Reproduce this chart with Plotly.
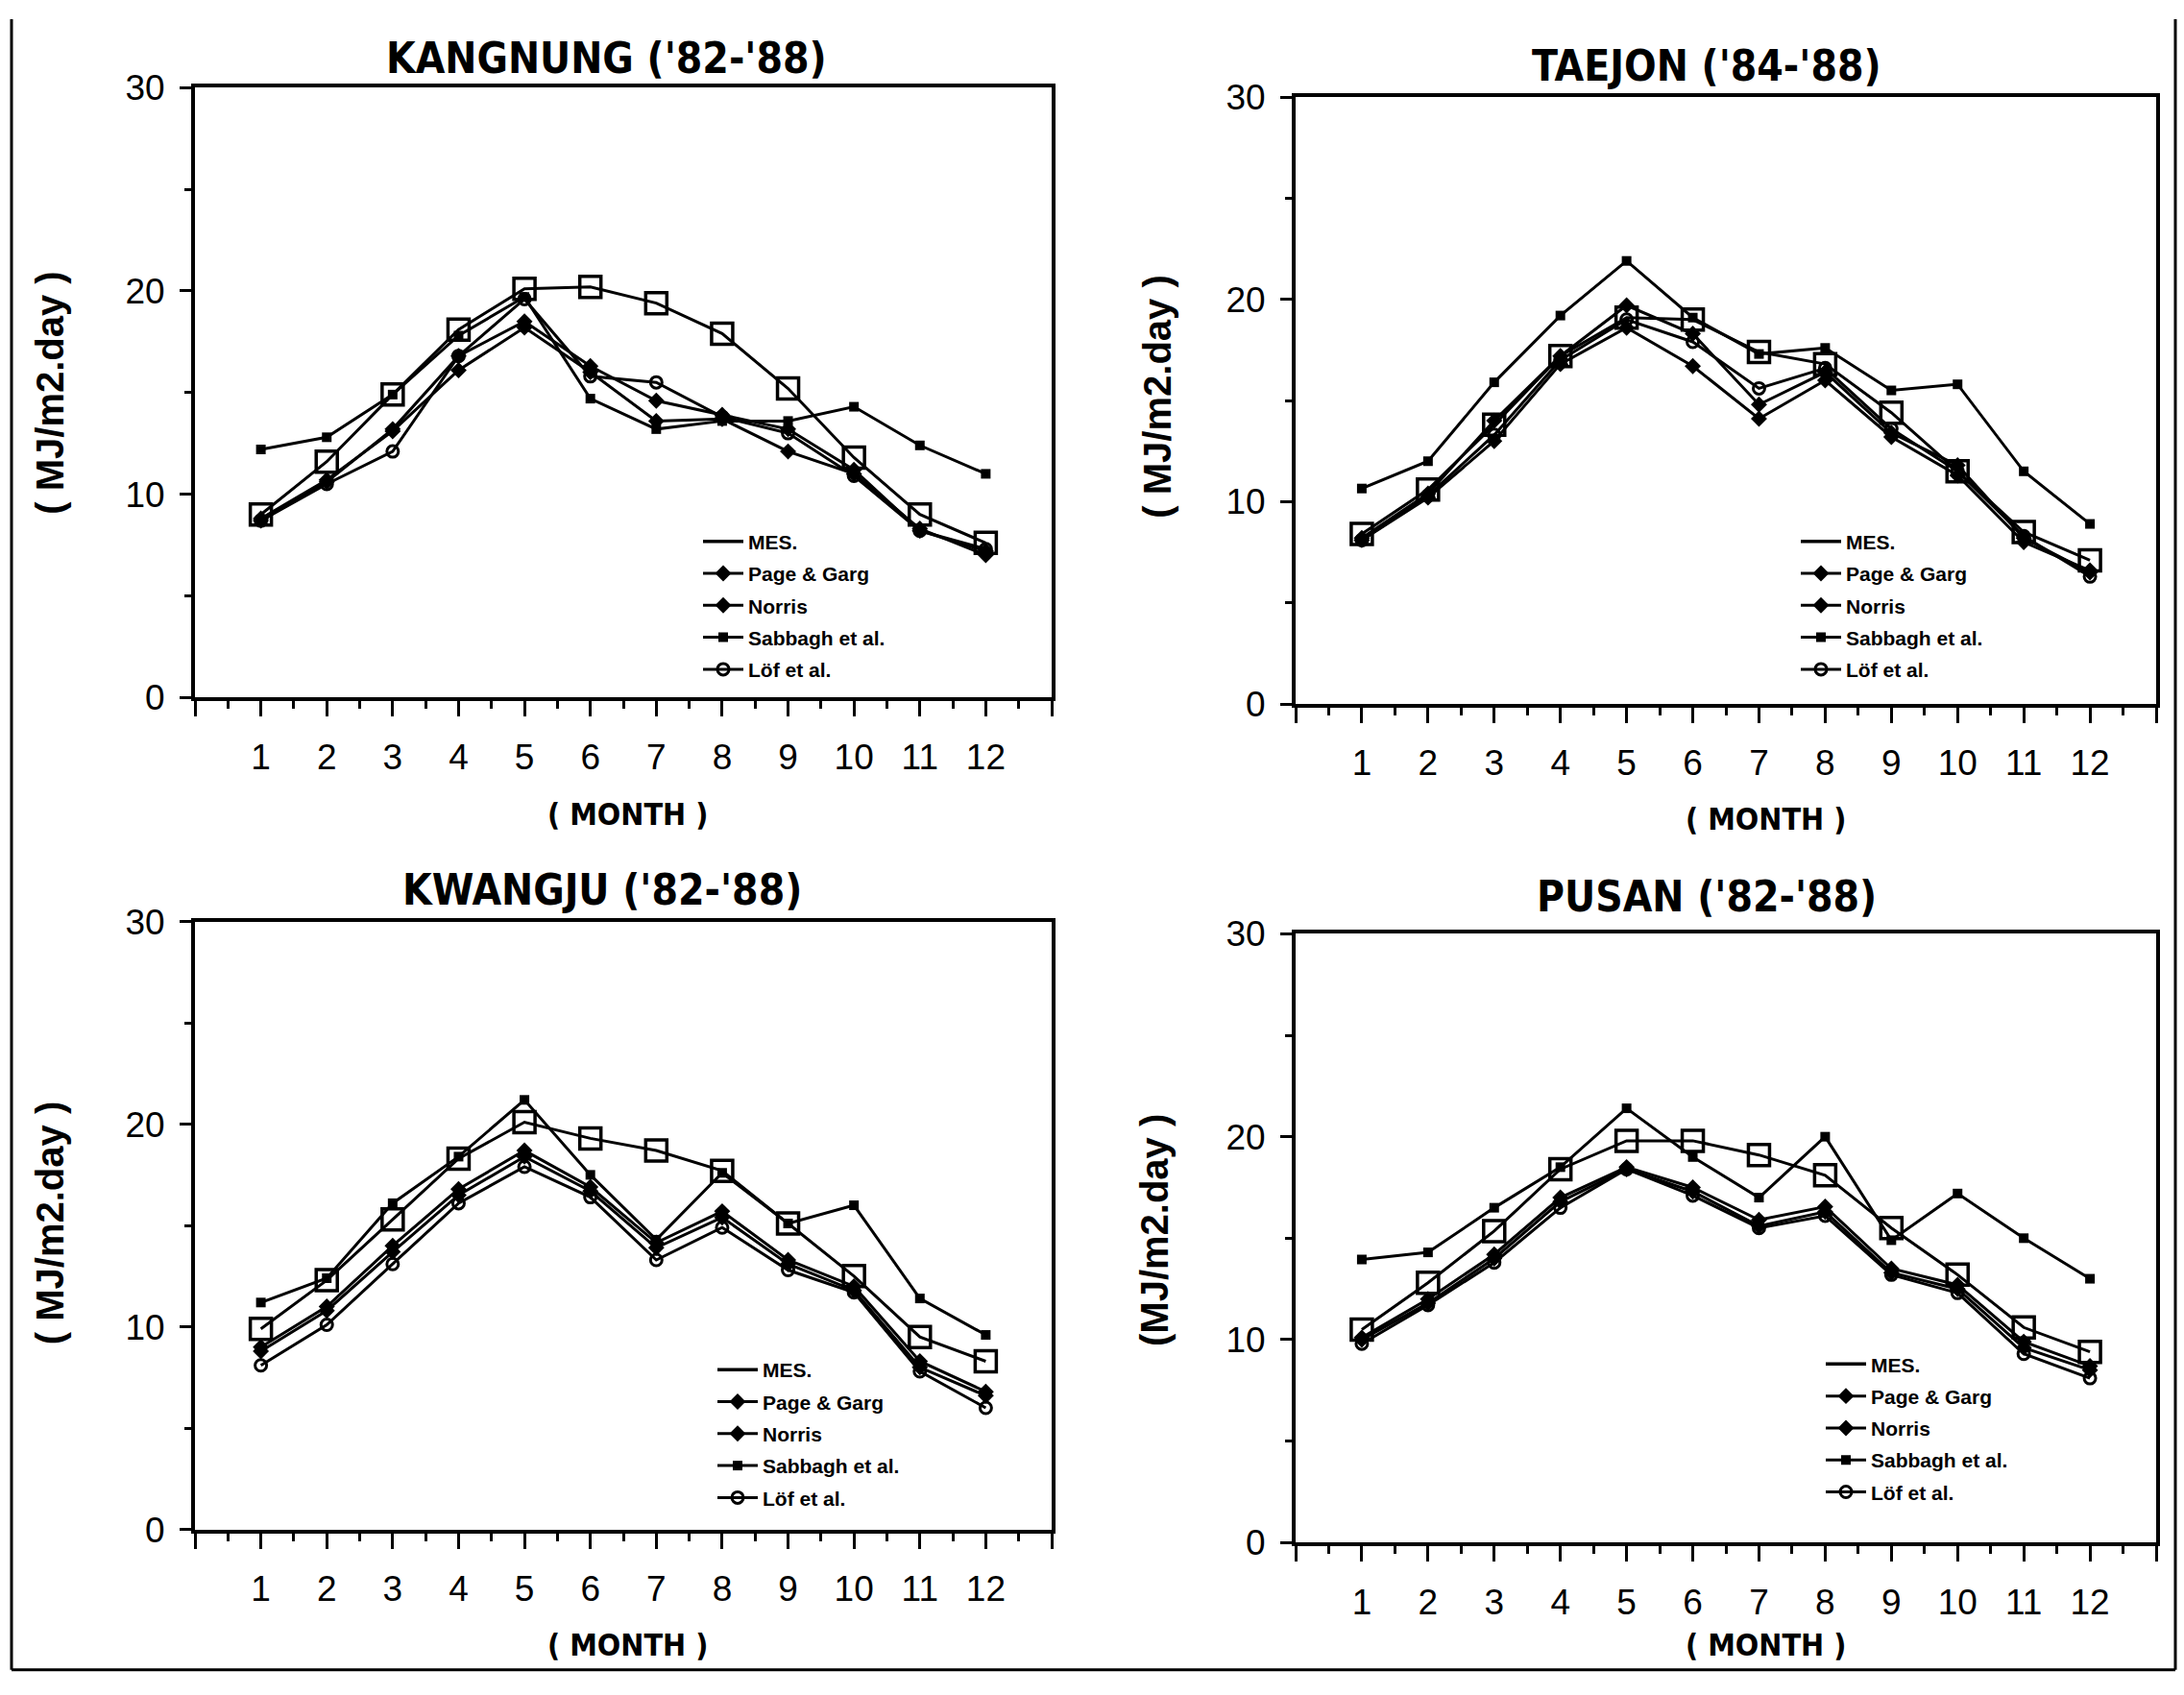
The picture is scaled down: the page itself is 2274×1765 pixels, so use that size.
import plotly.graph_objects as go

W, H = 2274, 1765

months = list(range(1, 13))
month_ticks = list(range(0, 14))
month_labels = [""] + [str(m) for m in months] + [""]
y_ticks = [0, 10, 20, 30]

titles = ["KANGNUNG ('82-'88)", "TAEJON ('84-'88)", "KWANGJU ('82-'88)", "PUSAN ('82-'88)"]
y_titles = ["( MJ/m2.day )", "( MJ/m2.day )", "( MJ/m2.day )", "(MJ/m2.day )"]
x_title = "( MONTH )"
series_names = ["MES.", "Page & Garg", "Norris", "Sabbagh et al.", "Löf et al."]

# KANGNUNG
mes_k = [9.0, 11.6, 14.9, 18.1, 20.1, 20.2, 19.4, 17.9, 15.2, 11.8, 9.0, 7.6]
pg_k = [8.8, 10.7, 13.1, 16.1, 18.2, 16.0, 13.6, 13.7, 12.1, 11.0, 8.3, 7.0]
nor_k = [8.7, 10.6, 13.2, 16.8, 18.5, 16.3, 14.6, 13.9, 13.2, 11.2, 8.2, 7.2]
sab_k = [12.2, 12.8, 14.9, 17.8, 19.7, 14.7, 13.2, 13.6, 13.6, 14.3, 12.4, 11.0]
lof_k = [8.7, 10.5, 12.1, 16.8, 19.6, 15.8, 15.5, 13.8, 13.0, 10.9, 8.2, 7.3]

# TAEJON
mes_t = [8.4, 10.6, 13.8, 17.2, 19.1, 19.0, 17.4, 16.8, 14.4, 11.5, 8.5, 7.1]
pg_t = [8.2, 10.4, 14.0, 17.2, 19.7, 18.3, 14.8, 16.4, 13.4, 11.8, 8.2, 6.5]
nor_t = [8.1, 10.2, 13.0, 16.8, 18.6, 16.7, 14.1, 16.0, 13.2, 11.3, 8.0, 6.6]
sab_t = [10.65, 12.0, 15.9, 19.2, 21.9, 19.1, 17.3, 17.6, 15.5, 15.8, 11.5, 8.9]
lof_t = [8.1, 10.3, 13.3, 17.0, 19.0, 17.9, 15.6, 16.6, 13.6, 11.5, 8.3, 6.3]

# KWANGJU
mes_w = [9.9, 12.3, 15.3, 18.3, 20.1, 19.3, 18.7, 17.7, 15.1, 12.5, 9.5, 8.3]
pg_w = [9.0, 11.0, 14.0, 16.8, 18.7, 16.9, 14.15, 15.7, 13.3, 12.0, 8.3, 6.8]
nor_w = [8.8, 10.8, 13.7, 16.5, 18.4, 16.7, 13.9, 15.4, 13.1, 11.8, 8.0, 6.6]
sab_w = [11.2, 12.4, 16.1, 18.4, 21.2, 17.5, 14.3, 17.6, 15.1, 16.0, 11.4, 9.6]
lof_w = [8.1, 10.1, 13.1, 16.1, 17.9, 16.4, 13.3, 14.9, 12.8, 11.7, 7.8, 6.0]

# PUSAN
mes_p = [10.5, 12.8, 15.35, 18.4, 19.8, 19.8, 19.1, 18.1, 15.5, 13.2, 10.6, 9.4]
pg_p = [10.1, 12.0, 14.2, 17.0, 18.5, 17.5, 15.9, 16.55, 13.5, 12.7, 9.9, 8.7]
nor_p = [10.0, 11.8, 14.0, 16.8, 18.4, 17.3, 15.6, 16.3, 13.3, 12.5, 9.6, 8.5]
sab_p = [13.95, 14.3, 16.5, 18.5, 21.4, 19.0, 17.0, 20.0, 14.9, 17.2, 15.0, 13.0]
lof_p = [9.8, 11.7, 13.8, 16.5, 18.4, 17.1, 15.5, 16.1, 13.2, 12.3, 9.3, 8.1]

panels = [
    (mes_k, pg_k, nor_k, sab_k, lof_k),
    (mes_t, pg_t, nor_t, sab_t, lof_t),
    (mes_w, pg_w, nor_w, sab_w, lof_w),
    (mes_p, pg_p, nor_p, sab_p, lof_p),
]

# pixel geometry of each plot area: (left, right, top, bottom)
boxes = [(203, 1095, 73, 723), (1349, 2245, 83, 730), (203, 1095, 962, 1610), (1349, 2245, 975, 1624)]
title_pos = [(631, 41), (1777, 50), (627, 928), (1777, 935)]
xtitle_pos = [(653, 848), (1838, 853), (653, 1733), (1838, 1733)]
ytitle_pos = [(52, 399), (1205, 403), (52, 1284), (1202, 1291)]
legend_pos = [(727, 536), (1870, 536), (742, 1419), (1896, 1413)]

BLACK = "black"
styles = {
    "MES.": dict(symbol="square-open", size=22, line=dict(width=3.5, color=BLACK)),
    "Page & Garg": dict(symbol="diamond", size=13, color=BLACK),
    "Norris": dict(symbol="diamond", size=13, color=BLACK),
    "Sabbagh et al.": dict(symbol="square", size=10, color=BLACK),
    "Löf et al.": dict(symbol="circle-open", size=12, line=dict(width=3, color=BLACK)),
}

fig = go.Figure()
tick_font = dict(family="Liberation Sans, Arial, sans-serif", size=37, color=BLACK)

for i, data in enumerate(panels):
    n = "" if i == 0 else str(i + 1)
    legend_id = "legend" + n
    xa, ya = "x" + n, "y" + n
    mes = data[0]
    # legend-only entry for MES (line only, as in the reference legend)
    fig.add_trace(go.Scatter(x=[None], y=[None], mode="lines", name="MES.",
                             line=dict(color=BLACK, width=3.5), xaxis=xa, yaxis=ya,
                             legend=legend_id, legendgroup=f"{i}mes"))
    for name, vals in zip(series_names[1:], data[1:]):
        fig.add_trace(go.Scatter(x=months, y=vals, mode="lines+markers", name=name,
                                 line=dict(color=BLACK, width=3),
                                 marker=styles[name], xaxis=xa, yaxis=ya,
                                 legend=legend_id, legendgroup=f"{i}{name}"))
    fig.add_trace(go.Scatter(x=months, y=mes, mode="lines+markers", name="MES.",
                             line=dict(color=BLACK, width=3), marker=styles["MES."],
                             xaxis=xa, yaxis=ya, showlegend=False, legend=legend_id,
                             legendgroup=f"{i}mes"))

    l, r, t, b = boxes[i]
    fig.layout["xaxis" + n] = dict(
        domain=[l / W, r / W], anchor=ya, range=[0, 13], tickmode="array",
        tickvals=month_ticks, ticktext=month_labels, ticks="outside", ticklen=16,
        tickwidth=3, tickcolor=BLACK, showline=True, linewidth=4, linecolor=BLACK,
        mirror=True, showgrid=False, zeroline=False, tickfont=tick_font,
        ticklabelstandoff=10,
        minor=dict(dtick=0.5, tick0=0, ticks="outside", ticklen=8, tickwidth=2.5, tickcolor=BLACK, showgrid=False))
    fig.layout["yaxis" + n] = dict(
        domain=[1 - b / H, 1 - t / H], anchor=xa, range=[0, 30], tickmode="array",
        tickvals=y_ticks, ticks="outside", ticklen=12, tickwidth=3, tickcolor=BLACK,
        showline=True, linewidth=4, linecolor=BLACK, mirror=True, showgrid=False,
        zeroline=False, tickfont=tick_font, ticklabelstandoff=8,
        minor=dict(dtick=5, tick0=0, ticks="outside", ticklen=7, tickwidth=2.5, tickcolor=BLACK, showgrid=False))

    lx, ly = legend_pos[i]
    fig.layout[legend_id] = dict(
        x=lx / W, y=1 - ly / H, xanchor="left", yanchor="top", xref="paper", yref="paper",
        bgcolor="rgba(0,0,0,0)", borderwidth=0, itemwidth=42, tracegroupgap=3,
        font=dict(family="Liberation Sans, Arial, sans-serif", size=21, color=BLACK, weight="bold"),
        traceorder="grouped")

annotations = []
title_font = dict(family="Liberation Sans Narrow, DejaVu Sans Condensed, Arial Narrow, sans-serif",
                  size=44, color=BLACK, weight="bold")
for i in range(4):
    tx, ty = title_pos[i]
    annotations.append(dict(text=titles[i], x=tx / W, y=1 - ty / H, xref="paper", yref="paper",
                            showarrow=False, xanchor="center", yanchor="middle", font=title_font))
    mx, my = xtitle_pos[i]
    annotations.append(dict(text=x_title, x=mx / W, y=1 - my / H, xref="paper", yref="paper",
                            showarrow=False, xanchor="center", yanchor="middle",
                            font=dict(family=title_font["family"], size=32, color=BLACK, weight="bold")))
    yx, yy = ytitle_pos[i]
    annotations.append(dict(text=y_titles[i], x=yx / W, y=1 - yy / H, xref="paper", yref="paper",
                            showarrow=False, xanchor="center", yanchor="middle", textangle=-90,
                            font=dict(family="Liberation Sans, Arial, sans-serif", size=40,
                                      color=BLACK, weight="bold")))

shapes = [
    dict(type="line", xref="paper", yref="paper", x0=12 / W, x1=12 / W, y0=0.003, y1=1, line=dict(color=BLACK, width=3)),
    dict(type="line", xref="paper", yref="paper", x0=2265 / W, x1=2265 / W, y0=0.003, y1=1, line=dict(color=BLACK, width=3)),
    dict(type="line", xref="paper", yref="paper", x0=12 / W, x1=2265 / W, y0=0.003, y1=0.003, line=dict(color=BLACK, width=3)),
]

fig.update_layout(width=W, height=H, margin=dict(l=0, r=0, t=0, b=0),
                  paper_bgcolor="white", plot_bgcolor="white",
                  annotations=annotations, shapes=shapes)

fig.write_html("out.html")
